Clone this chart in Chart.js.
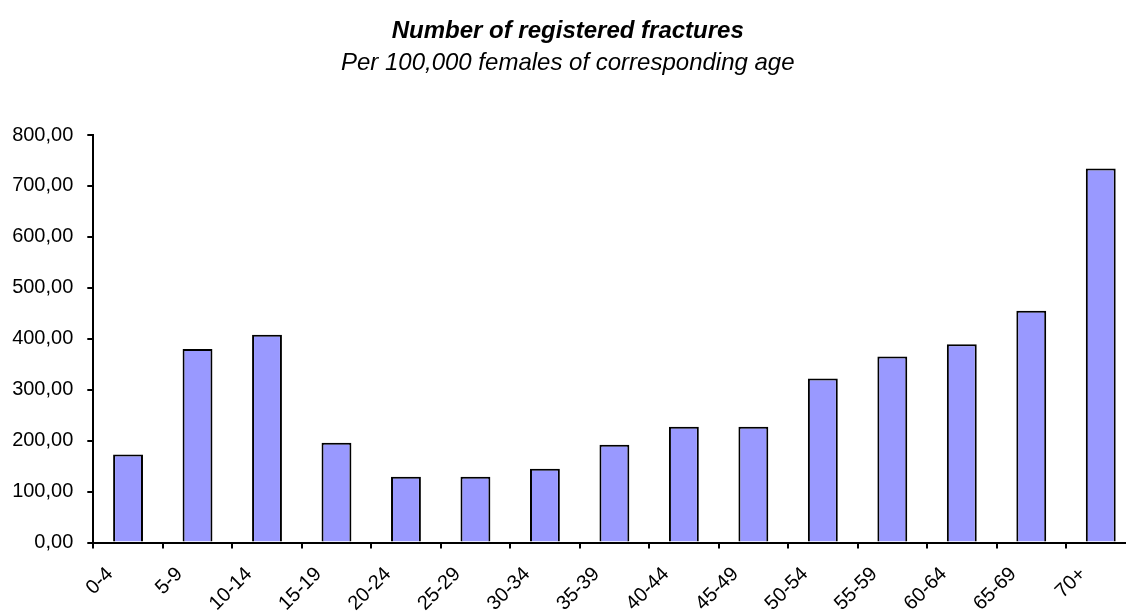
<!DOCTYPE html>
<html>
<head>
<meta charset="utf-8">
<script src="https://cdn.jsdelivr.net/npm/chart.js@4/dist/chart.umd.min.js"></script>
<style>
    html, body { margin: 0; padding: 0; background: #fff; overflow: hidden; }
    /* the plot runs a little past the right edge of the window, as in the original */
    #wrap { width: 1140px; height: 613px; }
</style>
</head>
<body>
<div id="wrap"><canvas id="fracturesChart"></canvas></div>
<script>
// Dados
const ageGroups = ['0-4', '5-9', '10-14', '15-19', '20-24', '25-29', '30-34', '35-39',
    '40-44', '45-49', '50-54', '55-59', '60-64', '65-69', '70+'];
const fractures = [173, 380, 408, 196, 129, 129, 145, 192, 227, 227, 322, 365, 389, 455, 734];
const yTicks = [0, 100, 200, 300, 400, 500, 600, 700, 800];

const titleText = 'Number of registered fractures';
const subtitleText = 'Per 100,000 females of corresponding age';

const fontFamily = '"Liberation Sans", Arial, sans-serif';

function formatComma(v) {
    return v.toFixed(2).replace('.', ',');
}

const ctx = document.getElementById('fracturesChart').getContext('2d');

new Chart(ctx, {
    type: 'bar',
    data: {
        labels: ageGroups,
        datasets: [{
            data: fractures,
            backgroundColor: '#9999FF',
            borderColor: '#000000',
            borderWidth: 2,
            categoryPercentage: 1,
            barPercentage: 0.43
        }]
    },
    options: {
        responsive: true,
        maintainAspectRatio: false,
        animation: false,
        layout: { padding: { left: 0, right: 4.5, top: 0, bottom: 0 } },
        plugins: {
            legend: { display: false },
            tooltip: { enabled: false },
            title: {
                display: true,
                text: titleText,
                color: '#000',
                font: { family: fontFamily, size: 24, weight: 'bold', style: 'italic', lineHeight: 1 },
                padding: { top: 19, bottom: 0 }
            },
            subtitle: {
                display: true,
                text: subtitleText,
                color: '#000',
                font: { family: fontFamily, size: 24, style: 'italic', lineHeight: 1 },
                padding: { top: 8, bottom: 60 }
            }
        },
        scales: {
            x: {
                grid: {
                    display: true,
                    drawOnChartArea: false,
                    drawTicks: true,
                    tickLength: 6,
                    color: '#000',
                    lineWidth: 2,
                    offset: true
                },
                border: { display: true, color: '#000', width: 2 },
                ticks: {
                    color: '#000',
                    font: { family: fontFamily, size: 20 },
                    minRotation: 45,
                    maxRotation: 45,
                    autoSkip: false,
                    labelOffset: -18,
                    padding: 14
                },
                afterFit(scale) { scale.height = 70.5; }
            },
            y: {
                min: 0,
                max: 800,
                afterBuildTicks(scale) {
                    scale.ticks = yTicks.map(v => ({ value: v }));
                },
                grid: {
                    display: true,
                    drawOnChartArea: false,
                    drawTicks: true,
                    tickLength: 6,
                    color: '#000',
                    lineWidth: 2
                },
                border: { display: true, color: '#000', width: 2 },
                ticks: {
                    color: '#000',
                    font: { family: fontFamily, size: 20 },
                    padding: 14,
                    callback: v => formatComma(v)
                },
                afterFit(scale) { scale.width = 93.3; }
            }
        }
    }
});
</script>
</body>
</html>
